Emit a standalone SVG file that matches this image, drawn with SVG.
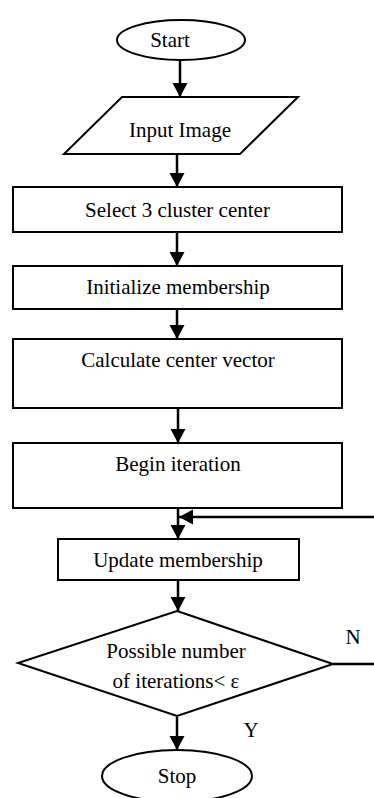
<svg xmlns="http://www.w3.org/2000/svg" width="374" height="798" viewBox="0 0 374 798">
<defs>
<marker id="ah" markerUnits="userSpaceOnUse" markerWidth="16" markerHeight="16" refX="14" refY="7.5" orient="auto">
<path d="M0,0 L14,7.5 L0,15 z" fill="#000"/>
</marker>
<style>
.s{fill:#fff;stroke:#000;stroke-width:2}
.t{font-family:'Liberation Serif','Times New Roman',serif;font-size:21px;fill:#000;text-anchor:middle}
.c{fill:none;stroke:#000;stroke-width:2.5}
</style>
</defs>
<rect width="374" height="798" fill="#fff"/>
<g id="connectors">
<line class="c" x1="180" y1="61" x2="180" y2="97" marker-end="url(#ah)"/>
<line class="c" x1="177" y1="155" x2="177" y2="187" marker-end="url(#ah)"/>
<line class="c" x1="177" y1="233" x2="177" y2="266" marker-end="url(#ah)"/>
<line class="c" x1="177" y1="310" x2="177" y2="339" marker-end="url(#ah)"/>
<line class="c" x1="178" y1="409" x2="178" y2="443" marker-end="url(#ah)"/>
<line class="c" x1="178" y1="509" x2="178" y2="539" marker-end="url(#ah)"/>
<line class="c" x1="178" y1="581" x2="178" y2="611" marker-end="url(#ah)"/>
<line class="c" x1="177" y1="717" x2="177" y2="750" marker-end="url(#ah)"/>
<line class="c" x1="374" y1="517" x2="179" y2="517" marker-end="url(#ah)"/>
<line class="c" x1="333" y1="664" x2="374" y2="664"/>
</g>
<g id="start">
<ellipse class="s" cx="181" cy="40" rx="64" ry="20"/>
<text class="t" x="170" y="47" font-family="Liberation Serif, serif">Start</text>
</g>
<g id="input">
<polygon class="s" points="122,97 298,97 240,154 64,154"/>
<text class="t" x="180" y="137" font-family="Liberation Serif, serif">Input Image</text>
</g>
<g id="select">
<rect class="s" x="13" y="187" width="329" height="45"/>
<text class="t" x="177.5" y="217" font-family="Liberation Serif, serif">Select 3 cluster center</text>
</g>
<g id="init">
<rect class="s" x="13" y="266" width="329" height="43"/>
<text class="t" x="178" y="294" font-family="Liberation Serif, serif">Initialize membership</text>
</g>
<g id="calc">
<rect class="s" x="13" y="339" width="329" height="69"/>
<text class="t" x="178" y="367" font-family="Liberation Serif, serif">Calculate center vector</text>
</g>
<g id="begin">
<rect class="s" x="13" y="443" width="329" height="65"/>
<text class="t" x="178" y="471" font-family="Liberation Serif, serif">Begin iteration</text>
</g>
<g id="update">
<rect class="s" x="58" y="539" width="241" height="41"/>
<text class="t" x="178" y="567" font-family="Liberation Serif, serif">Update membership</text>
</g>
<g id="decision">
<polygon class="s" points="177,611 333,664 177,716 18,663"/>
<text class="t" x="176" y="658" font-family="Liberation Serif, serif">Possible number</text>
<text class="t" x="176" y="688" font-family="Liberation Serif, serif">of iterations&lt; ε</text>
</g>
<g id="labels">
<text class="t" x="353" y="644" font-family="Liberation Serif, serif">N</text>
<text class="t" x="251" y="737" font-family="Liberation Serif, serif">Y</text>
</g>
<g id="stop">
<ellipse class="s" cx="177" cy="776" rx="75" ry="26"/>
<text class="t" x="177" y="783" font-family="Liberation Serif, serif">Stop</text>
</g>
</svg>
